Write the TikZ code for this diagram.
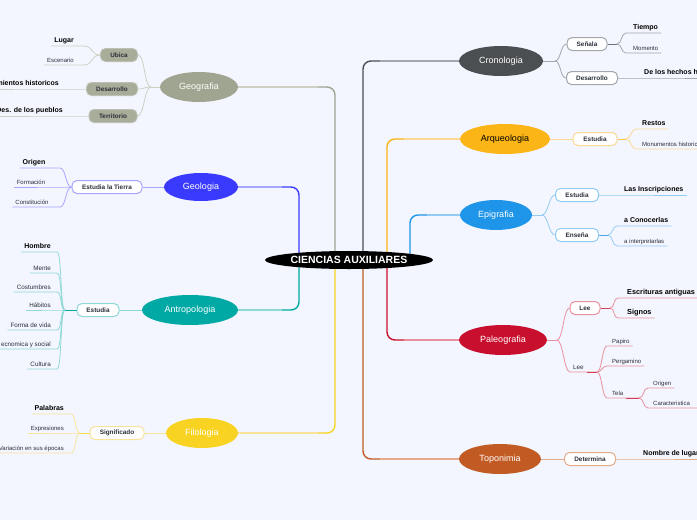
\documentclass[tikz,border=0pt]{standalone}
\usepackage{fontspec}
\setmainfont{Liberation Sans}
\usetikzlibrary{shapes.geometric}
\pgfdeclarelayer{back}
\pgfdeclarelayer{links}
\pgfsetlayers{back,links,main}
\definecolor{bgc}{HTML}{F3F6FE}
\definecolor{ink}{HTML}{2A2F3A}
\definecolor{geoC}{HTML}{A0A591}\definecolor{geoL}{HTML}{CDD0C3}
\definecolor{gelC}{HTML}{3A3AFF}\definecolor{gelL}{HTML}{A6A6FF}
\definecolor{antC}{HTML}{00A9A4}\definecolor{antL}{HTML}{8ED9D6}
\definecolor{filC}{HTML}{F8D321}\definecolor{filL}{HTML}{F9E29A}
\definecolor{croC}{HTML}{4B4F52}\definecolor{croL}{HTML}{A3A7AA}
\definecolor{arqC}{HTML}{FBB516}\definecolor{arqL}{HTML}{FCD995}
\definecolor{epiC}{HTML}{1E95E8}\definecolor{epiL}{HTML}{92CBF3}
\definecolor{palC}{HTML}{C8102E}\definecolor{palL}{HTML}{E8909E}
\definecolor{topC}{HTML}{C15B23}\definecolor{topL}{HTML}{E3AB8A}
\definecolor{gboxF}{HTML}{A8AD9A}\definecolor{gboxD}{HTML}{8F9482}
\newcommand\brL[4]{\draw[conn,#1] (#2) .. controls +(-#4,0) and +(#4,0) .. (#3)}
\newcommand\brR[4]{\draw[conn,#1] (#2) .. controls +(#4,0) and +(-#4,0) .. (#3)}
\begin{document}
\begin{tikzpicture}[x=1pt,y=-1pt,
  centre/.style={ellipse, fill=black, text=white, inner sep=0pt, minimum width=168pt, minimum height=18pt, font=\bfseries\fontsize{10.5}{11}\selectfont},
  topic/.style={ellipse, inner sep=0pt, minimum height=30pt, text=white, font=\fontsize{9}{10}\selectfont},
  box/.style={rounded corners=5pt, line width=1pt, fill=white, minimum height=13pt, inner xsep=3pt, inner ysep=0pt, text=ink, font=\bfseries\fontsize{6.4}{7}\selectfont},
  gbox/.style={box, fill=gboxF, draw=gboxD!60},
  kidB/.style={inner xsep=3pt, inner ysep=1.5pt, text height=5.5pt, text depth=1.5pt, text=black, font=\bfseries\fontsize{7.3}{8}\selectfont},
  kidb/.style={inner xsep=3pt, inner ysep=1.5pt, text height=5.2pt, text depth=1.4pt, text=black, font=\bfseries\fontsize{7}{8}\selectfont},
  kidm/.style={inner xsep=3pt, inner ysep=1.5pt, text height=4.8pt, text depth=1.3pt, text=ink, font=\fontsize{6.3}{7}\selectfont},
  kids/.style={inner xsep=3pt, inner ysep=1.5pt, text height=4.5pt, text depth=1.2pt, text=ink, font=\fontsize{6}{7}\selectfont},
  conn/.style={line width=0.8pt},
  mainl/.style={line width=1.4pt, rounded corners=8pt}]
\useasboundingbox (0,0) rectangle (697,520);
\clip (0,0) rectangle (697,520);
\begin{pgfonlayer}{back}
\fill[bgc] (0,0) rectangle (697,520);
\end{pgfonlayer}

% centre and topics
\node[centre] (cen) at (349,260) {CIENCIAS AUXILIARES};
\node[topic, fill=geoC, minimum width=78pt] (geo) at (199,87) {Geografia};
\node[topic, fill=gelC, minimum width=74pt, minimum height=28pt] (gel) at (201,187) {Geologia};
\node[topic, fill=antC, minimum width=96pt] (ant) at (190,310) {Antropologia};
\node[topic, fill=filC, minimum width=72pt] (fil) at (202,433) {Filologia};
\node[topic, fill=croC, minimum width=84pt] (cro) at (501,61) {Cronologia};
\node[topic, fill=arqC, minimum width=90pt, text=black] (arq) at (505,139) {Arqueologia};
\node[topic, fill=epiC, minimum width=72pt] (epi) at (496,215) {Epigrafia};
\node[topic, fill=palC, minimum width=88pt] (pal) at (503,340) {Paleografia};
\node[topic, fill=topC, minimum width=82pt] (topo) at (500,459) {Toponimia};

% boxes
\node[gbox, minimum width=37pt] (ubi) at (119,55) {Ubica};
\node[gbox, minimum width=51pt] (gdes) at (112,89) {Desarrollo};
\node[gbox, minimum width=48pt] (ter) at (113,116) {Territorio};
\node[box, draw=gelL, minimum width=70pt] (esl) at (107,187) {Estudia la Tierra};
\node[box, draw=antL, minimum width=42pt] (aest) at (98,310) {Estudia};
\node[box, draw=filL, minimum width=54pt] (sig) at (117,433) {Significado};
\node[box, draw=croL, minimum width=40pt] (sen) at (587,44) {Señala};
\node[box, draw=croL, minimum width=51pt] (cdes) at (592,78) {Desarrollo};
\node[box, draw=arqL, minimum width=44pt] (qest) at (595,139) {Estudia};
\node[box, draw=epiL, minimum width=43pt] (eest) at (577,195) {Estudia};
\node[box, draw=epiL, minimum width=43pt] (ens) at (577,235) {Enseña};
\node[box, draw=palL, minimum width=30pt] (lee) at (585,308) {Lee};
\node[box, draw=topL, minimum width=51pt] (det) at (590,459) {Determina};

% junctions
\coordinate (gj) at (151,87);
\coordinate (ja) at (65,310);
\coordinate (fj) at (80,433);
\coordinate (cj) at (555,61);
\coordinate (cj2) at (617,44);
\coordinate (qj) at (626,139);
\coordinate (ej) at (542,215);
\coordinate (ej2) at (608,235);
\coordinate (pj) at (557,340);
\coordinate (pj3) at (610,308);
\coordinate (pj4) at (597,372);
\coordinate (pj5) at (639,398);

% children: Geografia
\node[kidb, anchor=south east] (lug) at (77,46) {Lugar};
\node[kids, anchor=south east] (esc) at (77,65) {Escenario};
\node[kidb, anchor=south east] (aco) at (62,89) {Acontecimientos historicos};
\node[kidb, anchor=south east] (act) at (66,116) {Des. de los pueblos};
% Geologia
\node[kidb, anchor=south] (ori) at (34,168) {Origen};
\node[kids, anchor=south] (form) at (31,187) {Formación};
\node[kids, anchor=south] (cons) at (32,207) {Constitución};
% Antropologia
\node[kidb, anchor=south east] (hom) at (54,252) {Hombre};
\node[kidm, anchor=south east] (men) at (54,273) {Mente};
\node[kidm, anchor=south east] (cos) at (54,292) {Costumbres};
\node[kidm, anchor=south east] (hab) at (54,310) {Hábitos};
\node[kidm, anchor=south east] (fvi) at (54,330) {Forma de vida};
\node[kidm, anchor=south east] (eco) at (54,349) {Organización ecnomica y social};
\node[kidm, anchor=south east] (cul) at (54,369) {Cultura};
% Filologia
\node[kidb, anchor=south east] (pala) at (67,414) {Palabras};
\node[kids, anchor=south east] (expr) at (67,433) {Expresiones};
\node[kids, anchor=south east] (vari) at (67,453) {Variación en sus épocas};
% Cronologia
\node[kidb, anchor=south west] (tie) at (630,33) {Tiempo};
\node[kids, anchor=south west] (mom) at (630,53) {Momento};
\node[kidb, anchor=south west] (hech) at (641,78) {De los hechos históricos};
% Arqueologia
\node[kidb, anchor=south west] (res) at (639,129) {Restos};
\node[kids, anchor=south west] (monu) at (639,149) {Monumentos historicos};
% Epigrafia
\node[kidb, anchor=south west] (insc) at (621,195) {Las Inscripciones};
\node[kidb, anchor=south west] (acon) at (621,226) {a Conocerlas};
\node[kids, anchor=south west] (aint) at (621,246) {a interpretarlas};
% Paleografia
\node[kidB, anchor=south west] (escr) at (624,298) {Escrituras antiguas};
\node[kidB, anchor=south west] (sign) at (624,318) {Signos};
\node[kidm, anchor=south west] (lee2) at (570,372) {Lee};
\node[kids, anchor=south west] (papi) at (609,346) {Papiro};
\node[kids, anchor=south west] (perg) at (609,366) {Pergamino};
\node[kids, anchor=south west] (tela) at (609,398) {Tela};
\node[kids, anchor=south west] (orig) at (650,388) {Origen};
\node[kids, anchor=south west] (cara) at (650,408) {Caracteristica};
% Toponimia
\node[kidb, anchor=south west] (nomb) at (640,459) {Nombre de lugares};

\begin{pgfonlayer}{links}
% main branches
\draw[mainl, geoC] ([xshift=-14pt]cen.center) |- (geo.east);
\draw[line width=1.4pt, geoL] (geo.east) -- (geo.east -| 318,0);
\draw[mainl, gelC] ([xshift=-50pt]cen.center) |- (gel.east);
\draw[line width=1.4pt, gelL] (gel.east) -- (gel.east -| 282,0);
\draw[mainl, antC] ([xshift=-50pt]cen.center) |- (ant.east);
\draw[line width=1.4pt, antL] (ant.east) -- (ant.east -| 282,0);
\draw[mainl, filC] ([xshift=-14pt]cen.center) |- (fil.east);
\draw[line width=1.4pt, filL] (fil.east) -- (fil.east -| 318,0);
\draw[mainl, croC] ([xshift=14pt]cen.center) |- (cro.west);
\draw[line width=1.4pt, croL] (cro.west) -- (cro.west -| 380,0);
\draw[mainl, arqC] ([xshift=38pt]cen.center) |- (arq.west);
\draw[line width=1.4pt, arqL] (arq.west) -- (arq.west -| 404,0);
\draw[mainl, epiC] ([xshift=61pt]cen.center) |- (epi.west);
\draw[line width=1.4pt, epiL] (epi.west) -- (epi.west -| 427,0);
\draw[mainl, palC] ([xshift=38pt]cen.center) |- (pal.west);
\draw[line width=1.4pt, palL] (pal.west) -- (pal.west -| 404,0);
\draw[mainl, topC] ([xshift=14pt]cen.center) |- (topo.west);
\draw[line width=1.4pt, topL] (topo.west) -- (topo.west -| 380,0);

% Geografia
\draw[conn, geoL] (geo.west) -- (gj);
\brL{geoL}{gj}{ubi.east}{7};
\brL{geoL}{gj}{gdes.east}{7};
\brL{geoL}{gj}{ter.east}{7};
\brL{geoL}{ubi.west}{lug.south east -| 84,0}{9} -- (lug.south west);
\brL{geoL}{ubi.west}{esc.south east -| 84,0}{9} -- (esc.south west);
\draw[conn, geoL] (gdes.west) -- (aco.south east) -- (aco.south west);
\draw[conn, geoL] (ter.west) -- (act.south east) -- (act.south west);
% Geologia
\draw[conn, gelL] (gel.west) -- (esl.east);
\brL{gelL}{esl.west}{ori.south east -| 60,0}{6} -- (ori.south west);
\brL{gelL}{esl.west}{form.south east -| 60,0}{6} -- (form.south west);
\brL{gelL}{esl.west}{cons.south east -| 60,0}{6} -- (cons.south west);
% Antropologia
\draw[conn, antL] (ant.west) -- (aest.east);
\draw[conn, antC] (aest.west) -- (ja);
\foreach \k in {hom,men,cos,hab,fvi,eco,cul}{
  \brL{antL}{ja}{\k.south east -| 57,0}{5} -- (\k.south west);
}
% Filologia
\draw[conn, filL] (fil.west) -- (sig.east);
\draw[conn, filC!80] (sig.west) -- (fj);
\foreach \k in {pala,expr,vari}{
  \brL{filL}{fj}{\k.south east -| 71,0}{5} -- (\k.south west);
}
% Cronologia
\draw[conn, croL] (cro.east) -- (cj);
\brR{croL}{cj}{sen.west}{6};
\brR{croL}{cj}{cdes.west}{6};
\draw[conn, croC!80] (sen.east) -- (cj2);
\brR{croL}{cj2}{tie.south west -| 626,0}{5} -- (tie.south east);
\brR{croL}{cj2}{mom.south west -| 626,0}{5} -- (mom.south east);
\draw[conn, croL] (cdes.east) -- (hech.south west) -- (hech.south east);
% Arqueologia
\draw[conn, arqL] (arq.east) -- (qest.west);
\draw[conn, arqC!80] (qest.east) -- (qj);
\brR{arqL}{qj}{res.south west -| 636,0}{5} -- (res.south east);
\brR{arqL}{qj}{monu.south west -| 636,0}{5} -- (monu.south east) -- (697,149);
% Epigrafia
\draw[conn, epiL] (epi.east) -- (ej);
\brR{epiL}{ej}{eest.west}{6};
\brR{epiL}{ej}{ens.west}{6};
\draw[conn, epiL] (eest.east) -- (insc.south west) -- (insc.south east);
\draw[conn, epiC!80] (ens.east) -- (ej2);
\brR{epiL}{ej2}{acon.south west -| 617,0}{5} -- (acon.south east);
\brR{epiL}{ej2}{aint.south west -| 617,0}{5} -- (aint.south east);
% Paleografia
\draw[conn, palL] (pal.east) -- (pj);
\brR{palL}{pj}{lee.west}{6};
\brR{palL}{pj}{lee2.south west}{6} -- (pj4);
\draw[conn, palC!80] (lee2.south east) -- (pj4);
\draw[conn, palC!80] (lee.east) -- (pj3);
\brR{palL}{pj3}{escr.south west -| 618,0}{5} -- (escr.south east) -- (697,298);
\brR{palL}{pj3}{sign.south west -| 618,0}{5} -- (sign.south east);
\brR{palL}{pj4}{papi.south west -| 607,0}{5} -- (papi.south east);
\brR{palL}{pj4}{perg.south west -| 607,0}{5} -- (perg.south east);
\brR{palL}{pj4}{tela.south west -| 607,0}{5} -- (tela.south east) -- (pj5);
\draw[conn, palC!80] (tela.south east) -- (pj5);
\brR{palL}{pj5}{orig.south west -| 648,0}{5} -- (orig.south east);
\brR{palL}{pj5}{cara.south west -| 648,0}{5} -- (cara.south east) -- (697,408);
% Toponimia
\draw[conn, topL] (topo.east) -- (det.west);
\draw[conn, topL] (det.east) -- (nomb.south west) -- (nomb.south east);
\end{pgfonlayer}
\end{tikzpicture}
\end{document}
